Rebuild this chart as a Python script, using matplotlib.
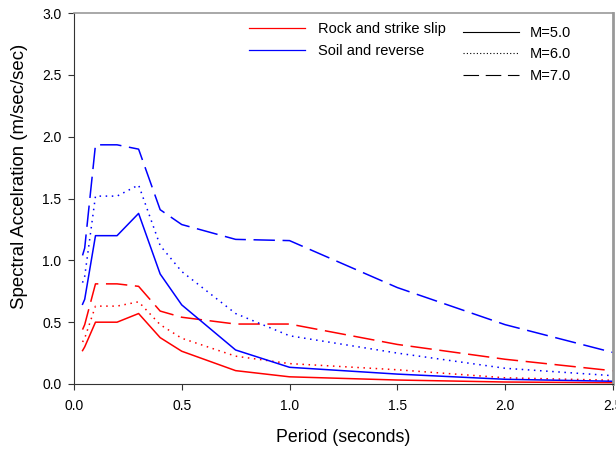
import matplotlib.pyplot as plt
from matplotlib.lines import Line2D

plt.rcParams['font.family'] = ['Liberation Sans', 'DejaVu Sans']

# periods (seconds)
period = [0.04, 0.05, 0.1, 0.2, 0.3, 0.4, 0.5, 0.75, 1.0, 1.5, 2.0, 2.5]

# rock and strike slip
rock_m5 = [0.27, 0.30, 0.50, 0.50, 0.57, 0.375, 0.265, 0.108, 0.058, 0.032, 0.016, 0.010]
rock_m6 = [0.34, 0.37, 0.63, 0.63, 0.665, 0.48, 0.37, 0.225, 0.165, 0.115, 0.05, 0.03]
rock_m7 = [0.44, 0.48, 0.81, 0.81, 0.79, 0.59, 0.54, 0.485, 0.485, 0.32, 0.20, 0.107]

# soil and reverse
soil_m5 = [0.645, 0.685, 1.20, 1.20, 1.38, 0.89, 0.64, 0.275, 0.135, 0.08, 0.038, 0.022]
soil_m6 = [0.82, 0.87, 1.52, 1.52, 1.61, 1.12, 0.91, 0.57, 0.39, 0.25, 0.127, 0.067]
soil_m7 = [1.04, 1.10, 1.935, 1.935, 1.90, 1.41, 1.29, 1.17, 1.16, 0.78, 0.48, 0.255]

dashed = (0, (14, 5))
dotted = (0, (1, 3))

fig = plt.figure(figsize=(6.16, 4.5), dpi=100)
ax = fig.add_axes([0.120, 0.1467, 0.875, 0.824])

ax.plot(period, rock_m5, color='#ff0000', lw=1.1, ls='-')
ax.plot(period, rock_m6, color='#ff0000', lw=1.1, ls=dotted)
ax.plot(period, rock_m7, color='#ff0000', lw=1.1, ls=dashed)
ax.plot(period, soil_m5, color='#0000ff', lw=1.1, ls='-')
ax.plot(period, soil_m6, color='#0000ff', lw=1.1, ls=dotted)
ax.plot(period, soil_m7, color='#0000ff', lw=1.1, ls=dashed)

ax.set_xlim(0, 2.5)
ax.set_ylim(0, 3.0)
ax.set_xticks([0.0, 0.5, 1.0, 1.5, 2.0, 2.5])
ax.set_yticks([0.0, 0.5, 1.0, 1.5, 2.0, 2.5, 3.0])
ax.xaxis.set_major_formatter(plt.FormatStrFormatter('%.1f'))
ax.yaxis.set_major_formatter(plt.FormatStrFormatter('%.1f'))
ax.tick_params(direction='out', length=4, width=0.8, labelsize=10, colors='#333333', labelcolor='black')
ax.tick_params(axis='x', pad=7)
ax.tick_params(axis='y', pad=5)

for s in ['left', 'bottom']:
    ax.spines[s].set_color('#333333')
    ax.spines[s].set_linewidth(0.8)
ax.spines['top'].set_color('#999999')
ax.spines['top'].set_linewidth(1.2)
ax.spines['right'].set_color('#999999')
ax.spines['right'].set_linewidth(2.0)

ax.set_xlabel('Period (seconds)', fontsize=12.8, labelpad=11)
ax.set_ylabel('Spectral Accelration (m/sec/sec)', fontsize=13.4)
ax.yaxis.set_label_coords(-0.085, 0.56)

h1 = [Line2D([], [], color='#ff0000', lw=0.9),
      Line2D([], [], color='#0000ff', lw=0.9)]
leg1 = ax.legend(h1, ['Rock and strike slip', 'Soil and reverse'], loc='upper left',
                 bbox_to_anchor=(0.325, 0.976), frameon=False, fontsize=10.5,
                 borderpad=0, borderaxespad=0,
                 handlelength=3.85, handletextpad=0.9, labelspacing=0.52)
ax.add_artist(leg1)

h2 = [Line2D([], [], color='black', lw=0.8, ls='-'),
      Line2D([], [], color='black', lw=0.8, ls=(0, (1, 2))),
      Line2D([], [], color='black', lw=0.8, ls=(0, (14, 6)))]
ax.legend(h2, ['M=5.0', 'M=6.0', 'M=7.0'], loc='upper left',
          bbox_to_anchor=(0.722, 0.966), frameon=False, fontsize=10.5,
          borderpad=0, borderaxespad=0,
          handlelength=3.85, handletextpad=0.7, labelspacing=0.52)

fig.savefig('out.png', dpi=100)
